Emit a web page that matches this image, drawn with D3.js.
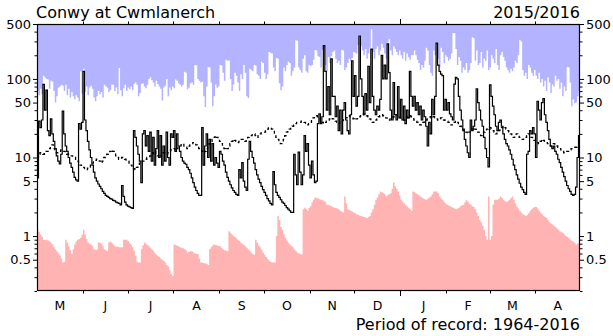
<!DOCTYPE html>
<html>
<head>
<meta charset="utf-8">
<script src="https://cdn.jsdelivr.net/npm/d3@7"></script>
<style>
  html, body { margin: 0; padding: 0; background: #fff; }
  svg { display: block; font-family: "DejaVu Sans", sans-serif; }
</style>
</head>
<body>
<svg id="chart" width="613" height="336"></svg>
<script>
// Conwy at Cwmlanerch, daily flow (m3/s) for 1 May 2015 - 30 Apr 2016
const stationName = "Conwy at Cwmlanerch";
const yearLabel = "2015/2016";
const recordLabel = "Period of record: 1964-2016";
const monthLabels = ["M", "J", "J", "A", "S", "O", "N", "D", "J", "F", "M", "A"];
const yMajorTicks = [0.5, 1, 5, 10, 50, 100, 500];
const yMinorTicks = [0.2, 0.3, 0.4, 0.6, 0.7, 0.8, 0.9, 2, 3, 4, 6, 7, 8, 9,
                     20, 30, 40, 60, 70, 80, 90, 200, 300, 400];

// Daily maximum of record
const dailyMax = [
  70, 62, 75, 64, 110, 104, 100, 98, 75, 95,
  92, 70, 50, 60, 77, 80, 84, 82, 70, 84,
  62, 75, 58, 68, 60, 55, 62, 58, 52, 125,
  65, 135, 68, 80, 62, 78, 82, 75, 58, 52,
  60, 70, 64, 68, 58, 84, 80, 77, 68, 72,
  85, 84, 70, 78, 64, 138, 72, 60, 76, 84,
  70, 78, 74, 80, 72, 86, 90, 84, 60, 66,
  86, 88, 80, 76, 84, 100, 105, 97, 90, 80,
  95, 86, 80, 75, 53, 78, 82, 100, 60, 78,
  72, 80, 76, 98, 95, 88, 84, 80, 84, 123,
  120, 74, 78, 88, 90, 84, 150, 148, 100, 95,
  90, 92, 60, 44, 80, 142, 140, 90, 45, 60,
  85, 77, 80, 150, 148, 120, 95, 175, 170, 172,
  100, 70, 85, 120, 110, 90, 70, 115, 100, 150,
  120, 60, 57, 135, 130, 125, 150, 148, 115, 110,
  100, 165, 160, 120, 100, 115, 220, 215, 210, 140,
  125, 185, 180, 88, 72, 80, 140, 125, 150, 165,
  160, 110, 125, 140, 310, 305, 140, 130, 120, 180,
  200, 125, 120, 150, 145, 150, 175, 234, 230, 195,
  190, 140, 235, 270, 150, 125, 190, 160, 195, 220,
  230, 180, 160, 170, 150, 235, 230, 130, 140, 160,
  180, 170, 185, 220, 215, 210, 270, 360, 260, 230,
  200, 240, 180, 210, 250, 430, 220, 180, 240, 260,
  200, 230, 280, 250, 210, 180, 290, 320, 230, 200,
  260, 240, 220, 200, 230, 200, 180, 220, 170, 210,
  190, 175, 200, 200, 230, 200, 175, 160, 130, 150,
  140, 170, 250, 230, 150, 120, 110, 230, 200, 290,
  180, 140, 250, 220, 160, 200, 190, 170, 180, 210,
  385, 380, 240, 150, 190, 170, 120, 140, 130, 160,
  120, 130, 160, 340, 330, 170, 230, 150, 160, 220,
  140, 180, 170, 230, 130, 140, 200, 180, 160, 240,
  150, 130, 200, 220, 190, 170, 140, 130, 120, 135,
  125, 140, 170, 160, 200, 313, 300, 130, 110, 120,
  100, 150, 140, 120, 110, 130, 110, 100, 120, 90,
  100, 80, 95, 70, 105, 90, 66, 85, 80, 110,
  95, 100, 75, 90, 60, 80, 70, 142, 140, 90,
  45, 55, 49, 50, 60, 70
];

// Daily minimum of record
const dailyMin = [
  1.2, 1.12, 1.05, 0.98, 0.9, 0.9, 0.89, 0.88, 0.86, 0.83,
  0.78, 0.72, 0.68, 0.64, 0.6, 0.57, 0.52, 0.46, 0.47, 0.9,
  0.82, 0.74, 0.66, 0.59, 0.68, 0.78, 0.85, 0.9, 0.92, 0.95,
  1.05, 1.2, 1.05, 0.92, 0.83, 0.8, 0.78, 0.74, 0.68, 0.67,
  0.67, 0.83, 0.82, 0.8, 0.74, 0.68, 0.66, 0.64, 0.83, 0.85,
  0.82, 0.78, 0.74, 0.73, 0.73, 0.72, 0.72, 0.72, 0.9, 0.9,
  0.9, 0.86, 0.82, 0.78, 0.72, 0.65, 0.56, 0.47, 0.46, 0.46,
  0.68, 0.76, 0.83, 0.8, 0.77, 0.74, 0.71, 0.68, 0.65, 0.61,
  0.58, 0.56, 0.54, 0.52, 0.5, 0.48, 0.46, 0.43, 0.41, 0.37,
  0.33, 0.31, 0.78, 0.77, 0.76, 0.74, 0.72, 0.71, 0.7, 0.68,
  0.66, 0.62, 0.63, 0.64, 0.64, 0.62, 0.6, 0.59, 0.59, 0.52,
  0.46, 0.46, 0.45, 0.45, 0.44, 0.43, 0.68, 0.72, 0.76, 0.78,
  0.77, 0.76, 0.75, 0.74, 0.71, 0.68, 0.66, 0.65, 0.64, 1.15,
  1.1, 1.05, 1.0, 0.97, 0.93, 0.9, 0.87, 0.83, 0.8, 0.77,
  0.74, 0.71, 0.68, 0.65, 0.62, 0.59, 0.58, 0.9, 0.82, 0.76,
  0.72, 0.67, 0.62, 0.58, 0.54, 0.51, 0.49, 0.47, 0.46, 0.46,
  0.46, 1.0, 1.8, 1.6, 1.3, 1.2, 1.05, 0.95, 0.88, 0.82,
  0.78, 0.75, 0.72, 0.68, 0.65, 0.62, 0.6, 0.59, 0.58, 2.2,
  2.3, 2.2, 2.1, 2.3, 2.4, 2.7, 2.9, 3.1, 3.05, 3.0,
  2.95, 2.9, 2.85, 2.8, 2.7, 2.5, 2.48, 2.45, 2.4, 2.35,
  2.3, 2.28, 2.25, 2.2, 2.1, 2.05, 2.0, 3.2, 2.6, 2.2,
  2.15, 2.1, 2.05, 2.0, 1.95, 1.9, 1.87, 1.83, 1.8, 1.77,
  1.75, 1.72, 1.7, 1.75, 1.8, 2.0, 2.2, 2.5, 2.9, 3.1,
  3.4, 3.7, 3.6, 3.5, 3.4, 3.2, 3.3, 3.4, 3.5, 4.0,
  4.8, 4.3, 4.0, 3.7, 3.3, 2.9, 2.75, 2.6, 2.5, 2.4,
  2.3, 2.2, 2.1, 3.7, 3.6, 3.5, 3.4, 3.3, 3.2, 3.1,
  3.0, 2.95, 2.9, 3.0, 3.1, 3.2, 3.4, 3.7, 3.7, 3.7,
  3.5, 3.2, 3.0, 2.9, 2.7, 2.6, 2.5, 2.45, 2.4, 2.35,
  2.3, 2.25, 2.2, 2.25, 2.3, 2.4, 2.45, 2.5, 2.7, 2.9,
  2.75, 2.6, 2.5, 2.4, 2.35, 2.2, 2.0, 1.8, 1.6, 1.5,
  1.35, 1.2, 1.0, 0.9, 3.2, 0.9, 1.0, 2.5, 2.9, 2.9,
  2.9, 3.0, 3.2, 3.05, 2.9, 2.8, 2.7, 2.8, 2.9, 3.05,
  3.2, 2.9, 2.6, 2.4, 2.25, 2.1, 2.0, 1.9, 1.85, 1.8,
  1.85, 1.95, 2.1, 2.2, 2.3, 2.35, 2.35, 2.25, 2.1, 2.0,
  1.9, 1.8, 1.75, 1.7, 1.6, 1.5, 1.45, 1.4, 1.35, 1.3,
  1.25, 1.2, 1.15, 1.12, 1.1, 1.05, 1.0, 0.97, 0.95, 0.9,
  0.87, 0.85, 0.82, 0.78, 0.8, 0.82
];

// Long-term daily median, month by month
const dailyMedian = [
  // May
  10, 11, 11.5, 11.5, 11, 11.5, 12, 12, 13, 14, 14.5, 13, 12, 11.5, 11.5, 12,
  12.5, 12, 12, 11.5, 11, 11, 10.5, 10.5, 10, 10, 9.5, 9, 8.5, 8, 7.8,
  // Jun
  7.5, 7.2, 7, 7.3, 7.5, 8, 8.5, 9, 9.2, 9.5, 9.5, 9, 8.5, 9, 10,
  10.5, 11, 11.5, 12, 12.5, 12, 11, 10.5, 10, 9.5, 9.5, 10, 10, 9.5, 9,
  // Jul
  9, 8.5, 8, 7.5, 7.2, 7, 7.5, 8, 8.5, 8.5, 9, 9, 9.5, 10, 10, 10.5,
  11, 11.5, 12, 11, 10.5, 10, 10.5, 11, 11.5, 11, 11, 11.5, 12, 12.5, 13,
  // Aug
  13, 12.5, 13, 13.5, 14, 14.5, 15, 14, 13.5, 13, 14, 14.5, 15, 15.5, 15, 14.5,
  14, 13, 12.5, 12, 11.5, 12, 13, 14, 15, 16, 17, 18, 19, 18, 17,
  // Sep
  16, 15, 14, 13, 12.5, 13, 14, 15, 16, 17, 16.5, 16, 15.5, 16, 17,
  17, 16.5, 16, 17, 18, 18.5, 19, 19.5, 20, 19, 18, 19, 20, 20.5, 21,
  // Oct
  21, 22, 23, 24, 24, 23, 22, 20, 18, 17, 16, 15, 15.5, 17, 19, 21,
  22, 23, 24, 25, 26, 27, 28, 28, 28, 29, 29, 28, 27, 26, 27,
  // Nov
  28, 30, 32, 33, 34, 33, 32, 30, 28, 27, 28, 29, 30, 31, 32,
  31, 30, 29, 28, 27, 28, 29, 30, 31, 32, 33, 34, 33, 32, 31,
  // Dec
  30, 31, 32, 33, 34, 35, 36, 35, 34, 33, 31, 29, 28, 29, 30, 32,
  33, 34, 35, 34, 33, 32, 31, 30, 31, 32, 33, 34, 35, 34, 33,
  // Jan
  32, 31, 30, 31, 32, 33, 34, 33, 32, 30, 29, 28, 27, 26, 27, 28,
  29, 30, 31, 32, 33, 34, 33, 32, 31, 30, 31, 32, 31, 30, 29,
  // Feb
  29, 28, 27, 26, 27, 28, 29, 28, 27, 25, 24, 23, 22, 21, 20,
  21, 22, 23, 24, 23, 22, 21, 20, 19, 20, 21, 22, 23, 24,
  // Mar
  24, 23, 22, 21, 20, 21, 22, 23, 24, 25, 24, 23, 22, 21, 20, 19,
  18, 19, 20, 19, 18, 17.5, 17, 17.5, 18, 19, 20, 19, 18, 17, 16.5,
  // Apr
  16, 15.5, 15, 16, 17, 16.5, 16, 15.5, 15, 14.5, 14, 14.5, 15, 14.5, 14,
  13.5, 13, 12.5, 12, 11.5, 11.5, 12, 12, 12.5, 13, 13, 13.5, 13.5, 14, 14
];

// Daily mean flow for the 2015/2016 year
const dailyFlow = [
  5.5, 29, 24, 30, 85, 40, 72, 22, 19, 31,
  20, 16, 13, 10.5, 9, 8.3, 11, 39, 20, 14,
  12, 10, 8.5, 7.5, 6.5, 5.6, 5.2, 5.0, 27, 23,
  28, 125, 30, 22, 16, 12.5, 10, 8, 6.5, 5.5,
  5.0, 4.6, 4.3, 4.0, 3.7, 3.5, 3.3, 3.2, 3.1, 3.0,
  2.95, 2.85, 2.8, 2.7, 2.65, 2.6, 2.5, 4.4, 3.2, 2.7,
  2.5, 2.4, 2.35, 2.3, 2.25, 22, 18, 14, 11, 9,
  4.8, 20, 22, 14, 19, 12, 21, 9, 18, 8,
  13, 22, 10, 19, 8, 14, 9, 21, 10, 8,
  20, 18, 22, 12, 20, 14, 12, 10, 9, 8.5,
  8.2, 7.5, 7.0, 6.3, 5.5, 4.8, 4.2, 3.8, 3.5, 3.3,
  3.3, 24, 8, 14, 20, 10, 17, 9, 15, 8,
  10, 8.5, 7.5, 12, 11, 9, 8, 6.5, 5.6, 5.0,
  4.5, 4.1, 3.8, 3.6, 3.4, 3.3, 7, 5.5, 8.6, 5,
  4.2, 3.8, 9.5, 16, 12, 10, 8.5, 7, 6, 5.3,
  4.8, 4.3, 3.9, 3.6, 3.3, 3.0, 2.8, 2.6, 2.5, 6.6,
  4.5, 3.6, 3.3, 3.1, 2.9, 2.7, 2.6, 2.45, 2.3, 2.2,
  2.1, 2.0, 2.0, 11, 6, 4.5, 11.7, 6.5, 4.5, 6,
  19, 12, 15, 8, 5.5, 9, 6, 4.8, 5.0, 27,
  36, 27, 33, 265, 125, 40, 80, 35, 180, 60,
  60, 33, 45, 22, 40, 20, 40, 50, 30, 22,
  20, 35, 170, 60, 110, 45, 60, 352, 100, 60,
  35, 65, 40, 145, 50, 240, 60, 40, 35, 45,
  40, 55, 200, 100, 150, 100, 280, 120, 40, 30,
  90, 35, 30, 80, 32, 55, 30, 45, 27, 40,
  32, 125, 60, 45, 60, 40, 50, 35, 45, 30,
  40, 33, 25, 14, 28, 20, 55, 35, 60, 285,
  150, 125, 115, 110, 40, 55, 40, 50, 36, 33,
  30, 86, 105, 100, 60, 40, 30, 22, 17, 14,
  11.5, 10, 30, 22, 25, 30, 75, 50, 40, 30,
  25, 18, 13, 10, 7.6, 84, 60, 45, 35, 25,
  22, 28, 30, 25, 20, 17, 15, 14, 12.5, 11,
  9.5, 8, 7, 6, 5.3, 4.7, 4.2, 3.9, 3.6, 3.4,
  11, 12, 22, 20, 24, 20, 10, 52, 40, 30,
  50, 56, 35, 28, 22, 17, 14, 13, 14, 12,
  11, 9.5, 8.6, 7.5, 6.5, 5.7, 5.0, 4.4, 4.0, 3.7,
  3.4, 3.3, 3.4, 4.2, 10, 19
];

const startDate = new Date(2015, 4, 1);
const endDate = new Date(2016, 4, 1);

const svg = d3.select("#chart");
const margin = { left: 37, right: 33, top: 24, bottom: 45 };
const W = 613, H = 336;
const x0 = margin.left, x1 = W - margin.right;
const y0 = margin.top, y1 = H - margin.bottom;

const x = d3.scaleTime().domain([startDate, endDate]).range([x0, x1]);
const y = d3.scaleLog().domain([0.2, 500]).range([y1, y0]);

const dayDate = i => d3.timeDay.offset(startDate, i);

// Each series gets a closing point at the end of the last day so the steps fill it
function steps(values) {
  const pts = values.map((v, i) => ({ d: dayDate(i), v }));
  pts.push({ d: endDate, v: values[values.length - 1] });
  return pts;
}

svg.append("defs").append("clipPath").attr("id", "plotClip")
  .append("rect").attr("x", x0).attr("y", y0).attr("width", x1 - x0).attr("height", y1 - y0);

const plot = svg.append("g").attr("clip-path", "url(#plotClip)");

// Region above the maximum of record
plot.append("path")
  .datum(steps(dailyMax))
  .attr("fill", "#b3b3ff")
  .attr("d", d3.area().curve(d3.curveStepAfter)
    .x(p => x(p.d)).y0(y(500)).y1(p => y(p.v)));

// Region below the minimum of record
plot.append("path")
  .datum(steps(dailyMin))
  .attr("fill", "#ffb3b3")
  .attr("d", d3.area().curve(d3.curveStepAfter)
    .x(p => x(p.d)).y0(y(0.2)).y1(p => y(p.v)));

// Median flow (dashed)
plot.append("path")
  .datum(steps(dailyMedian))
  .attr("fill", "none")
  .attr("stroke", "#000")
  .attr("stroke-width", 1.3)
  .attr("stroke-dasharray", "3,3")
  .attr("d", d3.line().curve(d3.curveStepAfter).x(p => x(p.d)).y(p => y(p.v)));

// This year's flow
plot.append("path")
  .datum(steps(dailyFlow))
  .attr("fill", "none")
  .attr("stroke", "#000")
  .attr("stroke-width", 1.2)
  .attr("stroke-linejoin", "miter")
  .attr("d", d3.line().curve(d3.curveStepAfter).x(p => x(p.d)).y(p => y(p.v)));

// Frame
svg.append("rect")
  .attr("x", x0 + 0.5).attr("y", y0 + 0.5)
  .attr("width", x1 - x0 - 1).attr("height", y1 - y0 - 1)
  .attr("fill", "none").attr("stroke", "#000").attr("stroke-width", 1.2);

// Y axes (both sides)
const fmt = d => String(d);
function yAxes(axisGen, xpos) {
  const gMajor = svg.append("g").attr("transform", `translate(${xpos},0)`)
    .call(axisGen(y).tickValues(yMajorTicks).tickFormat(fmt).tickSize(4).tickPadding(2).tickSizeOuter(0));
  const gMinor = svg.append("g").attr("transform", `translate(${xpos},0)`)
    .call(axisGen(y).tickValues(yMinorTicks).tickFormat("").tickSize(2.5).tickSizeOuter(0));
  [gMajor, gMinor].forEach(g => {
    g.select(".domain").remove();
    g.selectAll("line").attr("stroke", "#000").attr("stroke-width", 1);
  });
  gMajor.selectAll("text").attr("fill", "#000").style("font-size", "13px")
    .style("font-family", "DejaVu Sans, sans-serif");
}
yAxes(d3.axisLeft, x0);
yAxes(d3.axisRight, x1);

// Month ticks top and bottom; the new-year tick is longer
const monthStarts = d3.timeMonth.range(d3.timeMonth.offset(startDate, 1), endDate);
const isYearStart = d => d.getMonth() === 0;
svg.append("g").selectAll("line.bt").data(monthStarts).join("line")
  .attr("x1", d => Math.round(x(d)) + 0.5).attr("x2", d => Math.round(x(d)) + 0.5)
  .attr("y1", y1).attr("y2", d => y1 + (isYearStart(d) ? 5 : 2.5))
  .attr("stroke", "#000");
svg.append("g").selectAll("line.tt").data(monthStarts).join("line")
  .attr("x1", d => Math.round(x(d)) + 0.5).attr("x2", d => Math.round(x(d)) + 0.5)
  .attr("y1", y0).attr("y2", d => y0 - (isYearStart(d) ? 5 : 2.5))
  .attr("stroke", "#000");

// Month initials centred in each month
const monthBands = d3.timeMonth.range(startDate, endDate);
svg.append("g").selectAll("text").data(monthBands).join("text")
  .attr("x", (d, i) => (x(d) + x(d3.timeMonth.offset(d, 1))) / 2)
  .attr("y", 310)
  .attr("text-anchor", "middle")
  .style("font-size", "12.5px")
  .text((d, i) => monthLabels[i]);

// Titles
svg.append("text").attr("x", 36).attr("y", 18)
  .style("font-size", "16px").text(stationName);
svg.append("text").attr("x", x1).attr("y", 18).attr("text-anchor", "end")
  .style("font-size", "16px").text(yearLabel);
svg.append("text").attr("x", x1).attr("y", 330).attr("text-anchor", "end")
  .style("font-size", "16px").text(recordLabel);
</script>
</body>
</html>
